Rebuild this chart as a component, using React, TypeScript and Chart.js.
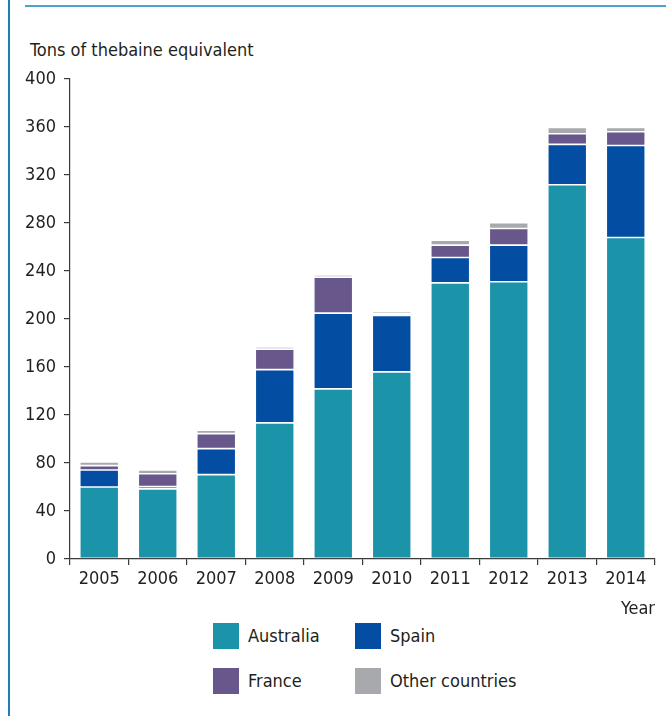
import React, { useEffect, useRef } from "react";
import { Chart, registerables } from "chart.js";

Chart.register(...registerables);

const years = ["2005", "2006", "2007", "2008", "2009", "2010", "2011", "2012", "2013", "2014"];
const australia = [60, 58.4, 70.3, 113.4, 141.8, 155.9, 230.1, 231, 311.9, 267.9];
const spain = [14.2, 1.9, 21.7, 44.4, 63.1, 47, 21.1, 30.6, 33.6, 76.7];
const france = [3.6, 10.8, 12.5, 17.1, 30, 1.4, 10.4, 13.8, 8.9, 11.4];
const otherCountries = [3.1, 3.1, 2.8, 1.9, 1.9, 1.7, 4.1, 4.8, 5.2, 3.6];
const seriesNames = ["Australia", "Spain", "France", "Other countries"];
const seriesColors = ["#1b93a9", "#034ea2", "#67578a", "#a7a9ac"];
const yMin = 0;
const yMax = 400;
const yStep = 40;
const yTitle = "Tons of thebaine equivalent";
const xTitle = "Year";

const FONT = '"Liberation Sans Narrow", "DejaVu Sans Condensed", "Arial Narrow", sans-serif';
const TEXT = "#231f20";
const FS = 18;

export default function App() {
  const ref = useRef<HTMLCanvasElement | null>(null);

  useEffect(() => {
    if (!ref.current) return;
    const values = [australia, spain, france, otherCountries];
    const chart = new Chart(ref.current, {
      type: "bar",
      data: {
        labels: years,
        datasets: values.map((d, i) => ({
          label: seriesNames[i],
          data: d,
          backgroundColor: seriesColors[i],
          borderColor: "rgba(255,255,255,0.2)",
          borderWidth: 0.8,
          borderSkipped: false,
          categoryPercentage: 1,
          barPercentage: 0.666,
        })),
      },
      options: {
        responsive: false,
        animation: false,
        layout: { padding: { left: 0, right: 11, top: 79, bottom: 0 } },
        plugins: {
          legend: { display: false },
          tooltip: { enabled: false },
          title: { display: false },
        },
        scales: {
          x: {
            stacked: true,
            offset: true,
            grid: {
              offset: true,
              drawOnChartArea: false,
              drawTicks: true,
              tickLength: 6,
              color: "#3a3a3a",
              lineWidth: 1.2,
            },
            border: { display: true, color: "#3a3a3a", width: 1.2 },
            ticks: {
              color: TEXT,
              padding: 4,
              font: { family: FONT, size: FS },
              maxRotation: 0,
              autoSkip: false,
            },
            title: {
              display: true,
              text: xTitle,
              align: "end",
              color: TEXT,
              font: { family: FONT, size: FS },
              padding: { top: 0, bottom: 0 },
            },
            afterFit: (scale: any) => {
              scale.height = 61;
            },
          },
          y: {
            stacked: true,
            min: yMin,
            max: yMax,
            grid: {
              drawOnChartArea: false,
              drawTicks: true,
              tickLength: 6,
              color: "#3a3a3a",
              lineWidth: 1.2,
            },
            border: { display: true, color: "#3a3a3a", width: 1.2 },
            ticks: {
              stepSize: yStep,
              color: TEXT,
              padding: 8,
              font: { family: FONT, size: FS },
            },
            afterFit: (scale: any) => {
              scale.width = 70;
            },
          },
        },
      },
    });
    return () => chart.destroy();
  }, []);

  const legendItems = [
    { i: 0, x: 213, y: 623 },
    { i: 1, x: 355, y: 623 },
    { i: 2, x: 213, y: 668 },
    { i: 3, x: 355, y: 668 },
  ];

  return (
    <div
      style={{
        position: "absolute",
        left: 0,
        top: 0,
        width: 666,
        height: 716,
        overflow: "hidden",
        background: "#fff",
        fontFamily: FONT,
        color: TEXT,
      }}
    >
      <div style={{ position: "absolute", left: 8, top: 0, width: 1.5, height: 716, background: "#1f7fb5" }} />
      <div style={{ position: "absolute", left: 25, top: 5, width: 641, height: 2, background: "#4aa3c8" }} />
      <div
        style={{
          position: "absolute",
          left: 30,
          top: 39,
          fontSize: FS,
          lineHeight: "22px",
          whiteSpace: "nowrap",
        }}
      >
        {yTitle}
      </div>
      <canvas
        ref={ref}
        width={666}
        height={620}
        style={{ position: "absolute", left: 0, top: 0, width: 666, height: 620 }}
      />
      {legendItems.map((it) => (
        <div key={it.i}>
          <div
            style={{
              position: "absolute",
              left: it.x,
              top: it.y,
              width: 26,
              height: 26,
              background: seriesColors[it.i],
            }}
          />
          <div
            style={{
              position: "absolute",
              left: it.x + 35,
              top: it.y + 2,
              fontSize: FS,
              lineHeight: "22px",
              whiteSpace: "nowrap",
            }}
          >
            {seriesNames[it.i]}
          </div>
        </div>
      ))}
    </div>
  );
}
